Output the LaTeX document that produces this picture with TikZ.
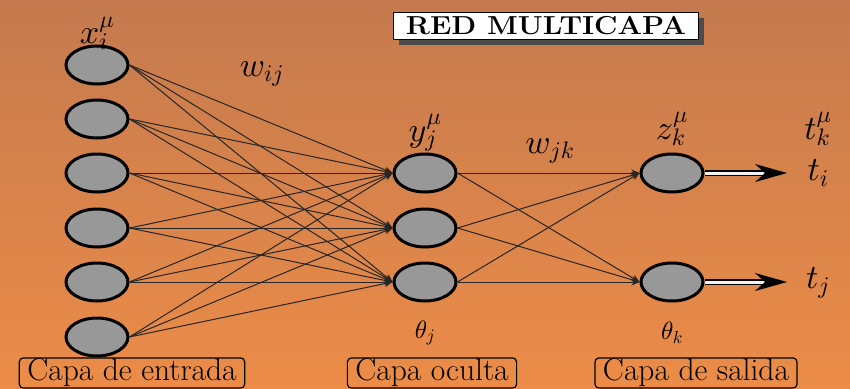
\documentclass[tikz,border=0pt]{standalone}
\usetikzlibrary{arrows.meta,shadows,shapes.geometric}

% let the math fonts scale to any size
\DeclareFontShape{OML}{cmm}{m}{it}{<->cmmi10}{}
\DeclareFontShape{OMS}{cmsy}{m}{n}{<->cmsy10}{}
\DeclareFontShape{OT1}{cmr}{m}{n}{<->cmr10}{}

\definecolor{bgtop}{RGB}{196,122,78}
\definecolor{bgbot}{RGB}{236,140,72}
\definecolor{neurongray}{RGB}{152,152,152}

\tikzset{
  neuron/.style={ellipse, draw=black, line width=3pt, fill=neurongray,
    minimum width=62pt, minimum height=38pt, inner sep=0pt},
  link/.style={line width=1pt, draw=black!85,
    -{Stealth[length=8pt,width=7pt]}},
  outarrow/.style={line width=1.5pt, double=white!90!gray, double distance=3pt,
    -{Stealth[length=32pt,width=18pt,inset=10pt]}},
  mathlbl/.style={inner sep=0pt, font=\fontsize{34}{40}\selectfont},
  smalllbl/.style={inner sep=0pt, font=\fontsize{25}{30}\selectfont},
  layerbox/.style={draw=black, line width=1.2pt, rounded corners=4pt,
    inner xsep=8pt, inner ysep=1pt, font=\fontsize{31.5}{36}\selectfont},
  titlebox/.style={draw=black, line width=1.2pt, fill=white,
    minimum width=305pt, minimum height=27pt, inner sep=0pt,
    font=\fontsize{26}{30}\selectfont\bfseries,
    drop shadow={shadow xshift=5pt, shadow yshift=-5pt, fill=black!70, opacity=1}}
}

\begin{document}
\begin{tikzpicture}[x=1pt,y=-1pt]
  % page frame and orange background
  \useasboundingbox (0,0) rectangle (850,388);
  \shade[top color=bgtop, bottom color=bgbot] (0,0) rectangle (850,388);

  % title
  \node[titlebox] (title) at (546,26) {\scalebox{1.11}[1]{RED MULTICAPA}};

  % input layer
  \foreach \k/\y in {1/65,2/119,3/173,4/228,5/282,6/337}
    \node[neuron] (in\k) at (97,\y) {};

  % hidden layer
  \foreach \k/\y in {1/173,2/228,3/282}
    \node[neuron] (hid\k) at (425,\y) {};

  % output layer
  \node[neuron] (out1) at (672,173) {};
  \node[neuron] (out2) at (672,282) {};

  % input -> hidden connections
  \foreach \a in {1,...,6}
    \foreach \b in {1,2,3}
      \draw[link] (in\a.east) -- (hid\b.west);

  % hidden -> output connections
  \foreach \a in {1,2,3}
    \foreach \b in {1,2}
      \draw[link] (hid\a.east) -- (out\b.west);

  % output signals
  \coordinate (tip1) at (787,173);
  \coordinate (tip2) at (787,282);
  \draw[outarrow] (out1.east) -- (tip1);
  \draw[outarrow] (out2.east) -- (tip2);

  % symbols
  \node[mathlbl] (lx) at (97,33) {$x_i^\mu$};
  \node[mathlbl] (lwij) at (262,74) {$w_{ij}$};
  \node[mathlbl] (ly) at (425,133) {$y_j^\mu$};
  \node[mathlbl] (lwjk) at (550,151) {$w_{jk}$};
  \node[mathlbl] (lz) at (672,129) {$z_k^\mu$};
  \node[mathlbl] (ltk) at (818,129) {$t_k^\mu$};
  \node[mathlbl] (lti) at (818,173) {$t_i$};
  \node[mathlbl] (ltj) at (818,283) {$t_j$};
  \node[smalllbl] (lthj) at (425,333) {$\theta_j$};
  \node[smalllbl] (lthk) at (672,333) {$\theta_k$};

  % layer captions
  \node[layerbox] (capin) at (132,373) {Capa de entrada};
  \node[layerbox] (caphid) at (432,373) {Capa oculta};
  \node[layerbox] (capout) at (696,373) {Capa de salida};
\end{tikzpicture}
\end{document}
